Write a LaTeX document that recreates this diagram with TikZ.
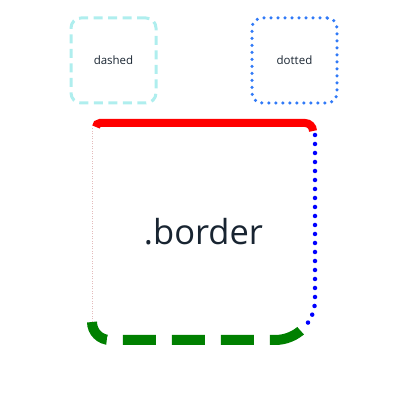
\documentclass[tikz,border=0pt]{standalone}
\usepackage{fontspec}
\setmainfont{Open Sans}
\definecolor{paleTurq}{HTML}{AFEEEE}
\definecolor{dotBlue}{HTML}{317AF7}
\definecolor{leftPink}{HTML}{E3BBBB}
\definecolor{textDark}{HTML}{182431}
\definecolor{darkGreen}{HTML}{008000}
\tikzset{
  demobox/.style={rounded corners=10pt, minimum width=85pt, minimum height=85pt,
    inner sep=0pt, text=textDark, font=\fontsize{11.5}{13}\selectfont},
}
\begin{document}
\begin{tikzpicture}[x=1pt, y=1pt]
  \useasboundingbox (0,0) rectangle (400,400);
  % dashed and dotted boxes
  \node[demobox, draw=paleTurq, line width=3pt, dash pattern=on 9pt off 5.5pt] (dashedbox) at (113.5,339.5) {dashed};
  \node[demobox, draw=dotBlue, line width=3.5pt, line cap=round, dash pattern=on 0pt off 7pt] (dottedbox) at (294.5,339.5) {dotted};
  % .border box, one side at a time
  \draw[red, line width=8pt] (96,273) arc (180:90:4) -- (305,277) arc (90:0:8);
  \draw[blue, line width=4.5pt, line cap=round, dash pattern=on 0pt off 9pt] (315,265) -- (315,100) arc (0:-35:40) coordinate (brcorner);
  \draw[blue, line width=2pt, line cap=round, dash pattern=on 0pt off 8pt] (brcorner) arc (-35:-45:40);
  \draw[darkGreen, line width=10pt, dash pattern=on 33pt off 16pt, dash phase=8pt] (92,78) arc (180:270:18) -- (275,60) arc (-90:-45:40);
  \draw[leftPink, line width=1pt, dash pattern=on 1pt off 1.5pt] (92,78) -- (92,272);
  \node[text=textDark, font=\fontsize{34.5}{40}\selectfont] (bordertext) at (203.5,168.5) {.border};
\end{tikzpicture}
\end{document}
